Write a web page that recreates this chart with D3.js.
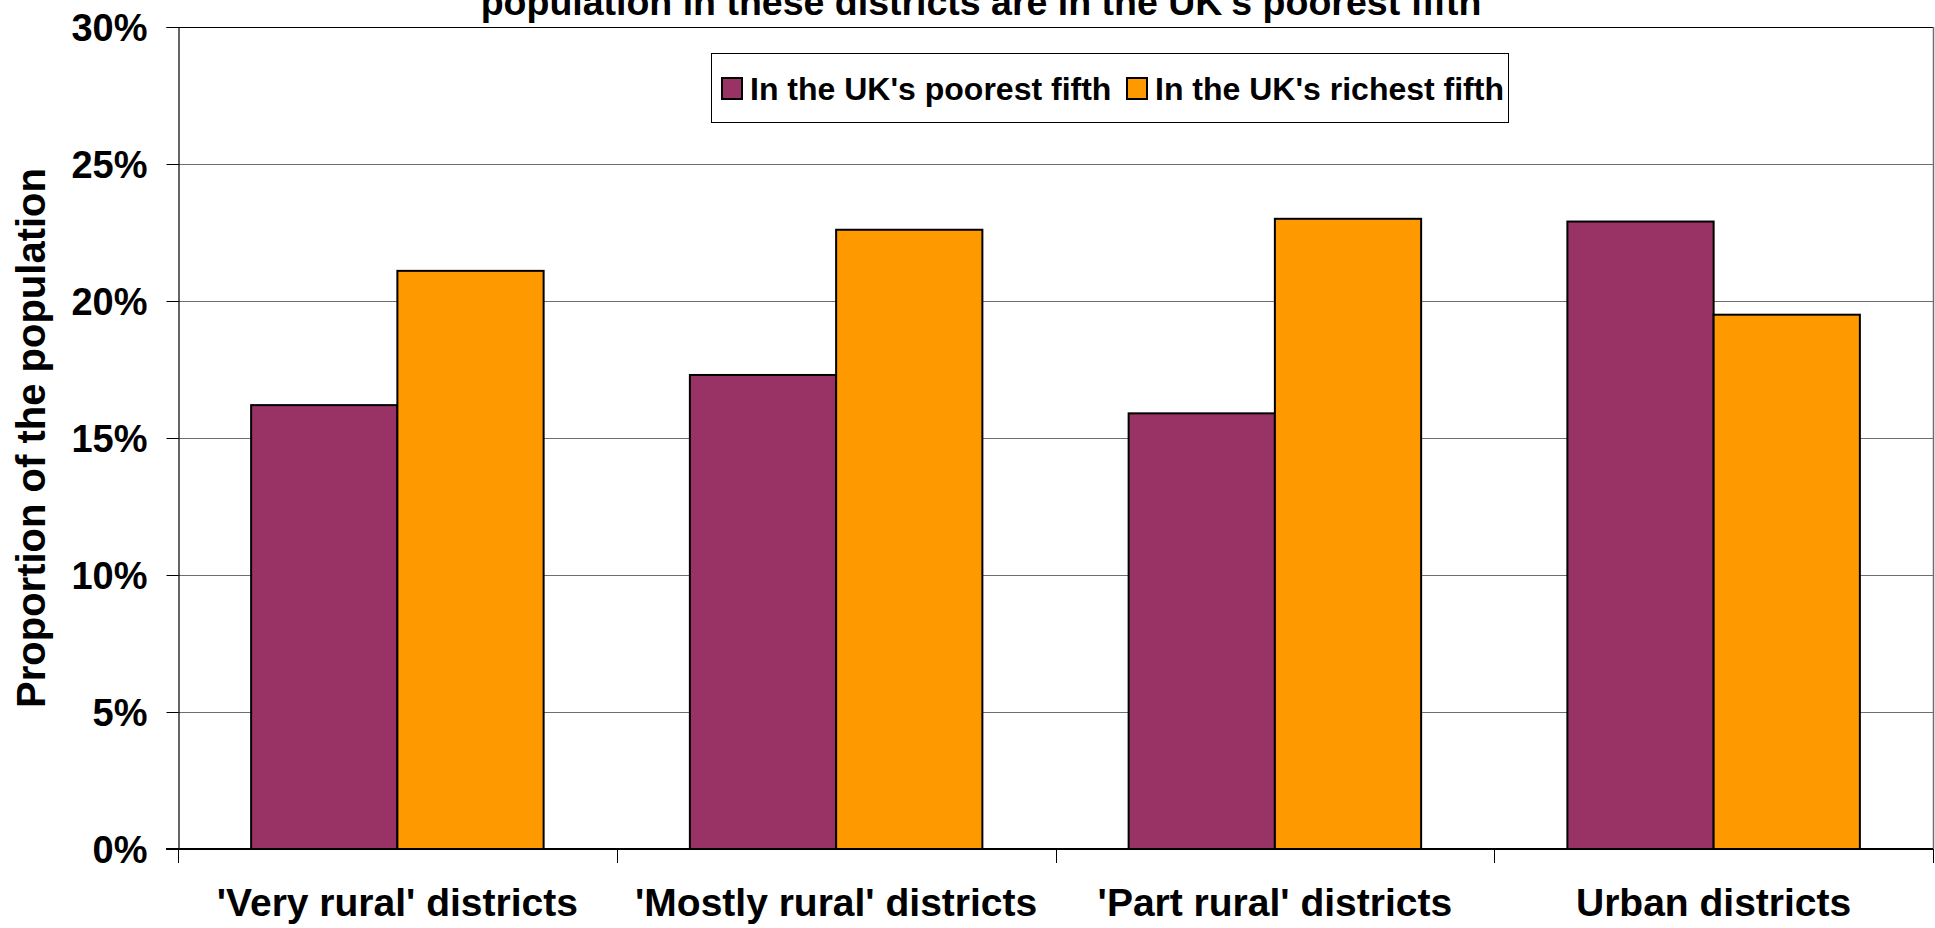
<!DOCTYPE html>
<html>
<head>
<meta charset="utf-8">
<script src="https://cdnjs.cloudflare.com/ajax/libs/d3/7.8.5/d3.min.js"></script>
<style>
  html, body { margin: 0; padding: 0; background: #fff; }
  svg { display: block; }
  text { font-family: "Liberation Sans", Arial, Helvetica, sans-serif; font-weight: bold; fill: #000; }
</style>
</head>
<body>
<svg id="chart" width="1935" height="928"></svg>
<script>
// ---- data ----
const categories = ["'Very rural' districts", "'Mostly rural' districts", "'Part rural' districts", "Urban districts"];
const seriesNames = ["In the UK's poorest fifth", "In the UK's richest fifth"];
const poorestFifth = [0.162, 0.173, 0.159, 0.229];
const richestFifth = [0.211, 0.226, 0.230, 0.195];
const yTicks = [0, 0.05, 0.10, 0.15, 0.20, 0.25, 0.30];
const titleText = "population in these districts are in the UK's poorest fifth";
const yAxisTitle = "Proportion of the population";
const seriesColors = ["#993366", "#FF9900"];

const seriesValues = [poorestFifth, richestFifth];
const table = categories.map((c, i) => ({
  category: c,
  values: seriesNames.map((s, j) => ({ series: s, value: seriesValues[j][i], color: seriesColors[j] }))
}));

// ---- layout ----
const svg = d3.select("#chart");
const plot = { left: 178, right: 1933, top: 27, bottom: 849 };

const x0 = d3.scaleBand().domain(categories).range([plot.left, plot.right]).padding(0);
const bw = x0.bandwidth();
const x1 = d3.scaleBand().domain(seriesNames).range([bw / 6, bw * 5 / 6]).padding(0);
const y = d3.scaleLinear().domain([0, 0.30]).range([plot.bottom, plot.top]);

// gridlines
svg.append("g")
  .selectAll("line")
  .data(yTicks.filter(d => d > 0 && d < 0.30))
  .join("line")
  .attr("x1", plot.left).attr("x2", plot.right)
  .attr("y1", d => Math.round(y(d)) + 0.5).attr("y2", d => Math.round(y(d)) + 0.5)
  .attr("stroke", "#6e6e6e").attr("stroke-width", 1);

// plot border top & right
svg.append("line")
  .attr("x1", plot.left).attr("x2", plot.right)
  .attr("y1", plot.top + 0.5).attr("y2", plot.top + 0.5)
  .attr("stroke", "#000").attr("stroke-width", 1);
svg.append("line")
  .attr("x1", plot.right + 0.5).attr("x2", plot.right + 0.5)
  .attr("y1", plot.top).attr("y2", plot.bottom)
  .attr("stroke", "#6e6e6e").attr("stroke-width", 1.5);

// bars
const groups = svg.append("g")
  .selectAll("g")
  .data(table)
  .join("g")
  .attr("transform", d => `translate(${x0(d.category)},0)`);

groups.selectAll("rect")
  .data(d => d.values)
  .join("rect")
  .attr("x", d => x1(d.series))
  .attr("width", x1.bandwidth())
  .attr("y", d => y(d.value))
  .attr("height", d => y(0) - y(d.value))
  .attr("fill", d => d.color)
  .attr("stroke", "#000")
  .attr("stroke-width", 2);

// y axis
const yAxis = d3.axisLeft(y)
  .tickValues(yTicks)
  .tickFormat(d3.format(".0%"))
  .tickSize(12)
  .tickPadding(19);
const gy = svg.append("g").attr("transform", `translate(${plot.left + 0.5},0)`).call(yAxis);
gy.select(".domain").attr("stroke", "#000").attr("stroke-width", 1.2);
gy.selectAll(".tick line").attr("stroke", "#000").attr("stroke-width", 1);
gy.selectAll(".tick text")
  .style("font-size", "38px")
  .attr("dy", "0.35em");

// x axis (baseline + boundary ticks)
const gx = svg.append("g").attr("transform", `translate(0,${plot.bottom})`);
gx.append("line")
  .attr("x1", plot.left - 12).attr("x2", plot.right)
  .attr("y1", 0).attr("y2", 0)
  .attr("stroke", "#000").attr("stroke-width", 2);
const boundaries = categories.map(c => x0(c)).concat([plot.right]);
gx.selectAll("line.tk")
  .data(boundaries)
  .join("line")
  .attr("class", "tk")
  .attr("x1", d => Math.round(d) + 0.5).attr("x2", d => Math.round(d) + 0.5)
  .attr("y1", 0).attr("y2", 14)
  .attr("stroke", "#000").attr("stroke-width", 1);
gx.selectAll("text")
  .data(categories)
  .join("text")
  .attr("x", d => x0(d) + bw / 2)
  .attr("y", 67)
  .attr("text-anchor", "middle")
  .style("font-size", "39px")
  .text(d => d);

// y axis title
svg.append("text")
  .attr("transform", `translate(45,${(plot.top + plot.bottom) / 2}) rotate(-90)`)
  .attr("text-anchor", "middle")
  .style("font-size", "40px")
  .text(yAxisTitle);

// title (visible second line)
svg.append("text")
  .attr("x", 981)
  .attr("y", 15)
  .attr("text-anchor", "middle")
  .style("font-size", "37.5px")
  .text(titleText);

// legend
const lg = svg.append("g");
lg.append("rect")
  .attr("x", 711.5).attr("y", 53.5).attr("width", 797).attr("height", 69)
  .attr("fill", "#fff").attr("stroke", "#000").attr("stroke-width", 1);
const legendItems = [
  { name: seriesNames[0], color: seriesColors[0], sx: 722, tx: 750 },
  { name: seriesNames[1], color: seriesColors[1], sx: 1127, tx: 1155 }
];
const li = lg.selectAll("g.item").data(legendItems).join("g").attr("class", "item");
li.append("rect")
  .attr("x", d => d.sx).attr("y", 78).attr("width", 20).attr("height", 21)
  .attr("fill", d => d.color).attr("stroke", "#000").attr("stroke-width", 2);
li.append("text")
  .attr("x", d => d.tx).attr("y", 100)
  .style("font-size", "32px")
  .text(d => d.name);
</script>
</body>
</html>
